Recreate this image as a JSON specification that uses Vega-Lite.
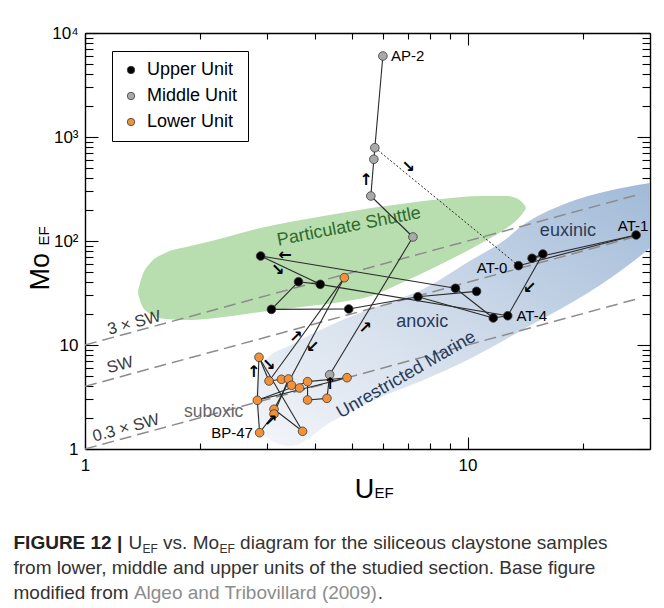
{
  "$schema": "https://vega.github.io/schema/vega-lite/v6.json",
  "width": 565,
  "height": 416,
  "autosize": "none",
  "padding": {"left": 85, "top": 33, "right": 14, "bottom": 159},
  "background": "white",
  "config": {
    "view": {"stroke": null},
    "font": "Liberation Sans",
    "axis": {"grid": false, "domainColor": "black", "tickColor": "black", "labelColor": "black", "titleColor": "black", "labelFont": "Liberation Sans", "titleFont": "Liberation Sans", "titleFontWeight": "normal", "domainWidth": 1.4, "tickWidth": 1.1, "titleLimit": 1000}
  },
  "datasets": {
    "shuttle": [
      {"U": 1.377, "top": 33.8, "bot": 30.9},
      {"U": 1.411, "top": 46.1, "bot": 23.7},
      {"U": 1.481, "top": 61.4, "bot": 19.9},
      {"U": 1.622, "top": 76.7, "bot": 17.8},
      {"U": 1.886, "top": 89.5, "bot": 17.4},
      {"U": 2.194, "top": 102.2, "bot": 18.2},
      {"U": 2.879, "top": 133.4, "bot": 20.8},
      {"U": 3.667, "top": 159.2, "bot": 23.2},
      {"U": 4.670, "top": 185.8, "bot": 25.9},
      {"U": 5.598, "top": 207.7, "bot": 29.6},
      {"U": 6.711, "top": 226.9, "bot": 39.5},
      {"U": 8.546, "top": 253.4, "bot": 60.1},
      {"U": 10.88, "top": 270.8, "bot": 95.7},
      {"U": 12.66, "top": 270.8, "bot": 133.4},
      {"U": 13.69, "top": 247.9, "bot": 170.2},
      {"U": 14.20, "top": 212.3, "bot": 203.1}
    ],
    "marine": [
      {"U": 2.794, "top": 3.31, "bot": 2.65},
      {"U": 2.845, "top": 5.75, "bot": 1.70},
      {"U": 2.968, "top": 7.17, "bot": 1.30},
      {"U": 3.451, "top": 10.0, "bot": 1.07},
      {"U": 4.396, "top": 15.6, "bot": 1.82},
      {"U": 5.947, "top": 24.3, "bot": 3.16},
      {"U": 7.571, "top": 33.8, "bot": 4.51},
      {"U": 10.24, "top": 65.7, "bot": 7.50},
      {"U": 12.51, "top": 102.2, "bot": 11.2},
      {"U": 13.86, "top": 139.4, "bot": 13.9},
      {"U": 17.65, "top": 222, "bot": 22.5},
      {"U": 23.88, "top": 309, "bot": 45},
      {"U": 30, "top": 361, "bot": 85}
    ],
    "guides": [
      {"k": "3xSW", "U1": 1, "M1": 10, "U2": 27.5, "M2": 275},
      {"k": "SW", "U1": 1, "M1": 4, "U2": 27.5, "M2": 110},
      {"k": "0.3xSW", "U1": 1, "M1": 1, "U2": 27.5, "M2": 27.5}
    ],
    "edges": [
      {"U1": 2.861, "M1": 1.435, "U2": 2.822, "M2": 2.94},
      {"U1": 2.822, "M1": 2.94, "U2": 2.850, "M2": 7.62},
      {"U1": 2.850, "M1": 7.62, "U2": 3.028, "M2": 4.507},
      {"U1": 3.028, "M1": 4.507, "U2": 4.764, "M2": 44.4},
      {"U1": 4.764, "M1": 44.4, "U2": 3.120, "M2": 2.41},
      {"U1": 2.861, "M1": 1.435, "U2": 3.120, "M2": 2.17},
      {"U1": 3.120, "M1": 2.17, "U2": 3.404, "M2": 4.71},
      {"U1": 3.028, "M1": 4.507, "U2": 3.264, "M2": 4.68},
      {"U1": 3.264, "M1": 4.68, "U2": 3.404, "M2": 4.71},
      {"U1": 3.404, "M1": 4.71, "U2": 3.467, "M2": 4.10},
      {"U1": 3.467, "M1": 4.10, "U2": 3.638, "M2": 3.86},
      {"U1": 2.850, "M1": 7.62, "U2": 3.705, "M2": 1.48},
      {"U1": 3.705, "M1": 1.48, "U2": 3.120, "M2": 2.41},
      {"U1": 2.822, "M1": 2.94, "U2": 3.818, "M2": 4.44},
      {"U1": 2.822, "M1": 2.94, "U2": 4.842, "M2": 4.85},
      {"U1": 3.818, "M1": 4.44, "U2": 4.842, "M2": 4.85},
      {"U1": 3.818, "M1": 4.44, "U2": 3.818, "M2": 2.96},
      {"U1": 3.818, "M1": 2.96, "U2": 4.291, "M2": 3.07},
      {"U1": 4.291, "M1": 3.07, "U2": 4.362, "M2": 5.18},
      {"U1": 4.362, "M1": 5.18, "U2": 7.20, "M2": 109.3},
      {"U1": 7.20, "M1": 109.3, "U2": 5.588, "M2": 270.8},
      {"U1": 5.588, "M1": 270.8, "U2": 5.690, "M2": 610.5},
      {"U1": 5.690, "M1": 610.5, "U2": 5.725, "M2": 789},
      {"U1": 5.725, "M1": 789, "U2": 6.008, "M2": 6009},
      {"U1": 13.59, "M1": 57.9, "U2": 27.6, "M2": 114.2},
      {"U1": 27.6, "M1": 114.2, "U2": 14.75, "M2": 68.2},
      {"U1": 14.75, "M1": 68.2, "U2": 15.74, "M2": 75.0},
      {"U1": 15.74, "M1": 75.0, "U2": 12.74, "M2": 19.1},
      {"U1": 12.74, "M1": 19.1, "U2": 11.68, "M2": 18.2},
      {"U1": 11.68, "M1": 18.2, "U2": 9.30, "M2": 35.1},
      {"U1": 9.30, "M1": 35.1, "U2": 2.879, "M2": 71.7},
      {"U1": 2.879, "M1": 71.7, "U2": 4.121, "M2": 38.3},
      {"U1": 4.121, "M1": 38.3, "U2": 12.74, "M2": 19.1},
      {"U1": 4.121, "M1": 38.3, "U2": 3.616, "M2": 40.6},
      {"U1": 3.616, "M1": 40.6, "U2": 3.072, "M2": 22.0},
      {"U1": 3.072, "M1": 22.0, "U2": 4.892, "M2": 22.2},
      {"U1": 4.892, "M1": 22.2, "U2": 7.42, "M2": 29.1},
      {"U1": 7.42, "M1": 29.1, "U2": 10.56, "M2": 32.8},
      {"U1": 7.42, "M1": 29.1, "U2": 11.68, "M2": 18.2}
    ],
    "dotted": [
      {"U1": 5.725, "M1": 789, "U2": 13.59, "M2": 57.9}
    ],
    "points": [
      {"U": 2.850, "Mo": 7.62, "unit": "Lower Unit"},
      {"U": 3.028, "Mo": 4.507, "unit": "Lower Unit"},
      {"U": 3.264, "Mo": 4.68, "unit": "Lower Unit"},
      {"U": 3.404, "Mo": 4.71, "unit": "Lower Unit"},
      {"U": 3.467, "Mo": 4.10, "unit": "Lower Unit"},
      {"U": 3.638, "Mo": 3.86, "unit": "Lower Unit"},
      {"U": 3.818, "Mo": 4.44, "unit": "Lower Unit"},
      {"U": 4.842, "Mo": 4.85, "unit": "Lower Unit"},
      {"U": 3.818, "Mo": 2.96, "unit": "Lower Unit"},
      {"U": 4.291, "Mo": 3.07, "unit": "Lower Unit"},
      {"U": 2.822, "Mo": 2.94, "unit": "Lower Unit"},
      {"U": 3.120, "Mo": 2.41, "unit": "Lower Unit"},
      {"U": 3.120, "Mo": 2.17, "unit": "Lower Unit"},
      {"U": 2.861, "Mo": 1.435, "unit": "Lower Unit"},
      {"U": 3.705, "Mo": 1.48, "unit": "Lower Unit"},
      {"U": 4.764, "Mo": 44.4, "unit": "Lower Unit"},
      {"U": 4.362, "Mo": 5.18, "unit": "Middle Unit"},
      {"U": 7.20, "Mo": 109.3, "unit": "Middle Unit"},
      {"U": 5.588, "Mo": 270.8, "unit": "Middle Unit"},
      {"U": 5.690, "Mo": 610.5, "unit": "Middle Unit"},
      {"U": 5.725, "Mo": 789, "unit": "Middle Unit"},
      {"U": 6.008, "Mo": 6009, "unit": "Middle Unit"},
      {"U": 2.879, "Mo": 71.7, "unit": "Upper Unit"},
      {"U": 3.616, "Mo": 40.6, "unit": "Upper Unit"},
      {"U": 4.121, "Mo": 38.3, "unit": "Upper Unit"},
      {"U": 3.072, "Mo": 22.0, "unit": "Upper Unit"},
      {"U": 4.892, "Mo": 22.2, "unit": "Upper Unit"},
      {"U": 7.42, "Mo": 29.1, "unit": "Upper Unit"},
      {"U": 9.30, "Mo": 35.1, "unit": "Upper Unit"},
      {"U": 10.56, "Mo": 32.8, "unit": "Upper Unit"},
      {"U": 11.68, "Mo": 18.2, "unit": "Upper Unit"},
      {"U": 12.74, "Mo": 19.1, "unit": "Upper Unit"},
      {"U": 13.59, "Mo": 57.9, "unit": "Upper Unit"},
      {"U": 14.75, "Mo": 68.2, "unit": "Upper Unit"},
      {"U": 15.74, "Mo": 75.0, "unit": "Upper Unit"},
      {"U": 27.6, "Mo": 114.2, "unit": "Upper Unit"}
    ],
    "names": [
      {"t": "AP-2", "U": 6.98, "Mo": 6009},
      {"t": "AT-0", "U": 11.6, "Mo": 54.4},
      {"t": "AT-1", "U": 27.1, "Mo": 139.4},
      {"t": "AT-4", "U": 14.72, "Mo": 19.0},
      {"t": "BP-47", "U": 2.424, "Mo": 1.41}
    ],
    "notes": [
      {"t": "Particulate Shuttle", "U": 4.9, "Mo": 137, "g": "shuttle"},
      {"t": "euxinic", "U": 18.3, "Mo": 124.8, "g": "navy"},
      {"t": "anoxic", "U": 7.62, "Mo": 16.6, "g": "navy"},
      {"t": "Unrestricted Marine", "U": 6.92, "Mo": 5.15, "g": "marine"},
      {"t": "suboxic", "U": 2.17, "Mo": 2.27, "g": "suboxic"},
      {"t": "3 × SW", "U": 1.345, "Mo": 16.3, "g": "sw"},
      {"t": "SW", "U": 1.235, "Mo": 6.42, "g": "sw"},
      {"t": "0.3 × SW", "U": 1.28, "Mo": 1.59, "g": "sw"}
    ],
    "arrows": [
      {"U": 2.76, "Mo": 5.50, "g": "↑"},
      {"U": 3.02, "Mo": 6.42, "g": "↘"},
      {"U": 3.56, "Mo": 11.9, "g": "↗"},
      {"U": 3.94, "Mo": 9.56, "g": "↙"},
      {"U": 3.06, "Mo": 1.86, "g": "↗"},
      {"U": 4.37, "Mo": 4.22, "g": "↑"},
      {"U": 5.40, "Mo": 14.6, "g": "↗"},
      {"U": 5.43, "Mo": 386, "g": "↑"},
      {"U": 7.00, "Mo": 515, "g": "↘"},
      {"U": 3.33, "Mo": 73.3, "g": "←"},
      {"U": 3.19, "Mo": 52.6, "g": "↘"},
      {"U": 14.55, "Mo": 35.3, "g": "↙"}
    ]
  },
  "layer": [
    {
      "data": {"name": "shuttle"},
      "mark": {"type": "area", "interpolate": "monotone", "color": "#b8ddae"},
      "encoding": {
        "x": {"field": "U", "type": "quantitative", "scale": {"type": "log", "domain": [1, 30], "nice": false},
          "axis": {"orient": "bottom", "values": [1, 10], "ticks": false, "labels": true, "domain": true, "labelExpr": "datum.value == 1 ? '1' : '10'", "labelFontSize": 17, "labelPadding": 8, "labelFlush": false, "labelOverlap": false, "title": "U", "titleFontSize": 27, "titleX": 279, "titleY": 48, "titleAlign": "center", "titleBaseline": "alphabetic"}},
        "y": {"field": "top", "type": "quantitative", "scale": {"type": "log", "domain": [1, 10000], "nice": false},
          "axis": {"orient": "left", "values": [1, 10, 100, 1000, 10000], "ticks": false, "labels": true, "domain": true, "labelExpr": "datum.value == 10000 ? '10⁴' : datum.value == 1000 ? '10³' : datum.value == 100 ? '10²' : datum.value == 10 ? '10' : '1'", "labelFontSize": 17, "labelPadding": 7, "labelFlush": false, "labelOverlap": false, "title": "Mo", "titleFontSize": 27, "titleAngle": -90, "titleX": -37, "titleY": 257, "titleAlign": "left", "titleBaseline": "alphabetic"}},
        "y2": {"field": "bot"}
      }
    },
    {
      "data": {"name": "marine"},
      "mark": {"type": "area", "interpolate": "monotone",
        "color": {"gradient": "linear", "x1": 0, "y1": 1, "x2": 1, "y2": 0, "stops": [{"offset": 0, "color": "#f3f5f9"}, {"offset": 0.45, "color": "#d2ddeb"}, {"offset": 1, "color": "#a1bad8"}]}},
      "encoding": {
        "x": {"field": "U", "type": "quantitative", "scale": {"type": "log", "domain": [1, 30], "nice": false},
          "axis": {"orient": "bottom", "values": [1, 10], "tickSize": -12, "labels": false, "domain": false, "title": null}},
        "y": {"field": "top", "type": "quantitative", "scale": {"type": "log", "domain": [1, 10000], "nice": false},
          "axis": {"orient": "left", "values": [1, 10, 100, 1000, 10000], "tickSize": -13, "labels": false, "domain": false, "title": null}},
        "y2": {"field": "bot"}
      }
    },
    {
      "data": {"name": "guides"},
      "mark": {"type": "rule", "stroke": "#8c8c8c", "strokeWidth": 1.5, "strokeDash": [12, 6]},
      "encoding": {
        "x": {"field": "U1", "type": "quantitative", "scale": {"type": "log", "domain": [1, 30], "nice": false},
          "axis": {"orient": "bottom", "values": [2, 3, 4, 5, 6, 7, 8, 9, 20], "tickSize": -6, "labels": false, "domain": false, "title": null}},
        "y": {"field": "M1", "type": "quantitative", "scale": {"type": "log", "domain": [1, 10000], "nice": false},
          "axis": {"orient": "left", "values": [2, 3, 4, 5, 6, 7, 8, 9, 20, 30, 40, 50, 60, 70, 80, 90, 200, 300, 400, 500, 600, 700, 800, 900, 2000, 3000, 4000, 5000, 6000, 7000, 8000, 9000], "tickSize": -8, "labels": false, "domain": false, "title": null}},
        "x2": {"field": "U2"},
        "y2": {"field": "M2"}
      }
    },
    {
      "data": {"name": "notes"},
      "transform": [{"filter": "datum.g == 'shuttle'"}],
      "mark": {"type": "text", "fontSize": 18, "color": "#2f6a2c", "angle": -11, "align": "center", "baseline": "middle", "font": "Liberation Sans"},
      "encoding": {
        "x": {"field": "U", "type": "quantitative", "scale": {"type": "log", "domain": [1, 30], "nice": false},
          "axis": {"orient": "top", "values": [1, 10], "tickSize": -12, "labels": false, "domain": true, "title": null}},
        "y": {"field": "Mo", "type": "quantitative", "scale": {"type": "log", "domain": [1, 10000], "nice": false},
          "axis": {"orient": "right", "values": [1, 10, 100, 1000, 10000], "tickSize": -13, "labels": false, "domain": true, "title": null}},
        "text": {"field": "t"}
      }
    },
    {
      "data": {"name": "notes"},
      "transform": [{"filter": "datum.g == 'navy'"}],
      "mark": {"type": "text", "fontSize": 18, "color": "#293a58", "align": "center", "baseline": "middle", "font": "Liberation Sans"},
      "encoding": {
        "x": {"field": "U", "type": "quantitative", "scale": {"type": "log", "domain": [1, 30], "nice": false},
          "axis": {"orient": "top", "values": [2, 3, 4, 5, 6, 7, 8, 9, 20], "tickSize": -6, "labels": false, "domain": false, "title": null}},
        "y": {"field": "Mo", "type": "quantitative", "scale": {"type": "log", "domain": [1, 10000], "nice": false},
          "axis": {"orient": "right", "values": [2, 3, 4, 5, 6, 7, 8, 9, 20, 30, 40, 50, 60, 70, 80, 90, 200, 300, 400, 500, 600, 700, 800, 900, 2000, 3000, 4000, 5000, 6000, 7000, 8000, 9000], "tickSize": -8, "labels": false, "domain": false, "title": null}},
        "text": {"field": "t"}
      }
    },
    {
      "data": {"name": "notes"},
      "transform": [{"filter": "datum.g == 'marine'"}],
      "mark": {"type": "text", "fontSize": 18, "color": "#293a58", "angle": -30, "align": "center", "baseline": "middle", "font": "Liberation Sans"},
      "encoding": {
        "x": {"field": "U", "type": "quantitative", "scale": {"type": "log", "domain": [1, 30], "nice": false},
          "axis": {"orient": "bottom", "ticks": false, "labels": false, "domain": false, "title": "EF", "titleFontSize": 15, "titleX": 289, "titleY": 48, "titleAlign": "left", "titleBaseline": "alphabetic"}},
        "y": {"field": "Mo", "type": "quantitative", "scale": {"type": "log", "domain": [1, 10000], "nice": false},
          "axis": {"orient": "left", "ticks": false, "labels": false, "domain": false, "title": "EF", "titleFontSize": 15, "titleAngle": -90, "titleX": -37, "titleY": 212, "titleAlign": "left", "titleBaseline": "alphabetic"}},
        "text": {"field": "t"}
      }
    },
    {
      "data": {"name": "notes"},
      "transform": [{"filter": "datum.g == 'suboxic'"}],
      "mark": {"type": "text", "fontSize": 17.5, "color": "#666666", "align": "center", "baseline": "middle", "font": "Liberation Sans"},
      "encoding": {
        "x": {"field": "U", "type": "quantitative", "scale": {"type": "log", "domain": [1, 30], "nice": false},
          "axis": {"orient": "bottom", "ticks": false, "labels": false, "domain": false, "title": "FIGURE 12 |", "titleFontSize": 19, "titleFontWeight": "bold", "titleColor": "#222222", "titleX": -72, "titleY": 99, "titleAlign": "left", "titleBaseline": "alphabetic"}},
        "y": {"field": "Mo", "type": "quantitative", "scale": {"type": "log", "domain": [1, 10000], "nice": false},
          "axis": {"orient": "left", "ticks": false, "labels": false, "domain": false, "title": "from lower, middle and upper units of the studied section. Base figure", "titleFontSize": 19, "titleColor": "#333333", "titleAngle": 0, "titleX": -72, "titleY": 540, "titleAlign": "left", "titleBaseline": "alphabetic"}},
        "text": {"field": "t"}
      }
    },
    {
      "data": {"name": "notes"},
      "transform": [{"filter": "datum.g == 'sw'"}],
      "mark": {"type": "text", "fontSize": 16.5, "color": "#3a3a3a", "angle": -15, "align": "center", "baseline": "middle", "font": "Liberation Sans"},
      "encoding": {
        "x": {"field": "U", "type": "quantitative", "scale": {"type": "log", "domain": [1, 30], "nice": false},
          "axis": {"orient": "bottom", "ticks": false, "labels": false, "domain": false, "title": "U", "titleFontSize": 19, "titleColor": "#333333", "titleX": 43, "titleY": 99, "titleAlign": "left", "titleBaseline": "alphabetic"}},
        "y": {"field": "Mo", "type": "quantitative", "scale": {"type": "log", "domain": [1, 10000], "nice": false},
          "axis": {"orient": "left", "ticks": false, "labels": false, "domain": false, "title": "modified from", "titleFontSize": 19, "titleColor": "#333333", "titleAngle": 0, "titleX": -72, "titleY": 565, "titleAlign": "left", "titleBaseline": "alphabetic"}},
        "text": {"field": "t"}
      }
    },
    {
      "data": {"name": "edges"},
      "mark": {"type": "rule", "stroke": "#2a2a2a", "strokeWidth": 1.1},
      "encoding": {
        "x": {"field": "U1", "type": "quantitative", "scale": {"type": "log", "domain": [1, 30], "nice": false},
          "axis": {"orient": "bottom", "ticks": false, "labels": false, "domain": false, "title": "EF", "titleFontSize": 12, "titleColor": "#333333", "titleX": 57, "titleY": 103, "titleAlign": "left", "titleBaseline": "alphabetic"}},
        "y": {"field": "M1", "type": "quantitative", "scale": {"type": "log", "domain": [1, 10000], "nice": false},
          "axis": {"orient": "left", "ticks": false, "labels": false, "domain": false, "title": "Algeo and Tribovillard (2009)", "titleFontSize": 19, "titleColor": "#8c8c8c", "titleAngle": 0, "titleX": 48.4, "titleY": 565, "titleAlign": "left", "titleBaseline": "alphabetic"}},
        "x2": {"field": "U2"},
        "y2": {"field": "M2"}
      }
    },
    {
      "data": {"name": "dotted"},
      "mark": {"type": "rule", "stroke": "#2a2a2a", "strokeWidth": 1, "strokeDash": [2, 2]},
      "encoding": {
        "x": {"field": "U1", "type": "quantitative", "scale": {"type": "log", "domain": [1, 30], "nice": false},
          "axis": {"orient": "bottom", "ticks": false, "labels": false, "domain": false, "title": "vs. Mo", "titleFontSize": 19, "titleColor": "#333333", "titleX": 77.6, "titleY": 99, "titleAlign": "left", "titleBaseline": "alphabetic"}},
        "y": {"field": "M1", "type": "quantitative", "scale": {"type": "log", "domain": [1, 10000], "nice": false},
          "axis": {"orient": "left", "ticks": false, "labels": false, "domain": false, "title": ".", "titleFontSize": 19, "titleColor": "#333333", "titleAngle": 0, "titleX": 292.3, "titleY": 565, "titleAlign": "left", "titleBaseline": "alphabetic"}},
        "x2": {"field": "U2"},
        "y2": {"field": "M2"}
      }
    },
    {
      "data": {"name": "points"},
      "mark": {"type": "circle", "size": 75, "opacity": 1, "stroke": "#3a3a3a", "strokeWidth": 0.8},
      "encoding": {
        "x": {"field": "U", "type": "quantitative", "scale": {"type": "log", "domain": [1, 30], "nice": false},
          "axis": {"orient": "bottom", "ticks": false, "labels": false, "domain": false, "title": "EF", "titleFontSize": 12, "titleColor": "#333333", "titleX": 134, "titleY": 103, "titleAlign": "left", "titleBaseline": "alphabetic"}},
        "y": {"field": "Mo", "type": "quantitative", "scale": {"type": "log", "domain": [1, 10000], "nice": false}, "axis": null},
        "color": {"field": "unit", "type": "nominal",
          "scale": {"domain": ["Upper Unit", "Middle Unit", "Lower Unit"], "range": ["#000000", "#a9a9a9", "#f1923b"]},
          "legend": {"orient": "none", "legendX": 27, "legendY": 18, "title": null, "strokeColor": "black", "fillColor": "white", "padding": 10, "labelFontSize": 18, "labelFont": "Liberation Sans", "labelColor": "black", "symbolType": "circle", "symbolSize": 55, "symbolStrokeColor": "#3a3a3a", "symbolStrokeWidth": 0.8, "rowPadding": 8, "labelOffset": 7}}
      }
    },
    {
      "data": {"name": "names"},
      "mark": {"type": "text", "fontSize": 15, "color": "black", "align": "center", "baseline": "middle", "font": "Liberation Sans"},
      "encoding": {
        "x": {"field": "U", "type": "quantitative", "scale": {"type": "log", "domain": [1, 30], "nice": false},
          "axis": {"orient": "bottom", "ticks": false, "labels": false, "domain": false, "title": "diagram for the siliceous claystone samples", "titleFontSize": 19, "titleColor": "#333333", "titleX": 154.6, "titleY": 99, "titleAlign": "left", "titleBaseline": "alphabetic"}},
        "y": {"field": "Mo", "type": "quantitative", "scale": {"type": "log", "domain": [1, 10000], "nice": false}, "axis": null},
        "text": {"field": "t"}
      }
    },
    {
      "data": {"name": "arrows"},
      "mark": {"type": "text", "fontSize": 16, "fontWeight": "bold", "color": "black", "align": "center", "baseline": "middle", "font": "DejaVu Sans"},
      "encoding": {
        "x": {"field": "U", "type": "quantitative", "scale": {"type": "log", "domain": [1, 30], "nice": false}, "axis": null},
        "y": {"field": "Mo", "type": "quantitative", "scale": {"type": "log", "domain": [1, 10000], "nice": false}, "axis": null},
        "text": {"field": "g"}
      }
    }
  ],
  "resolve": {"axis": {"x": "independent", "y": "independent"}}
}
